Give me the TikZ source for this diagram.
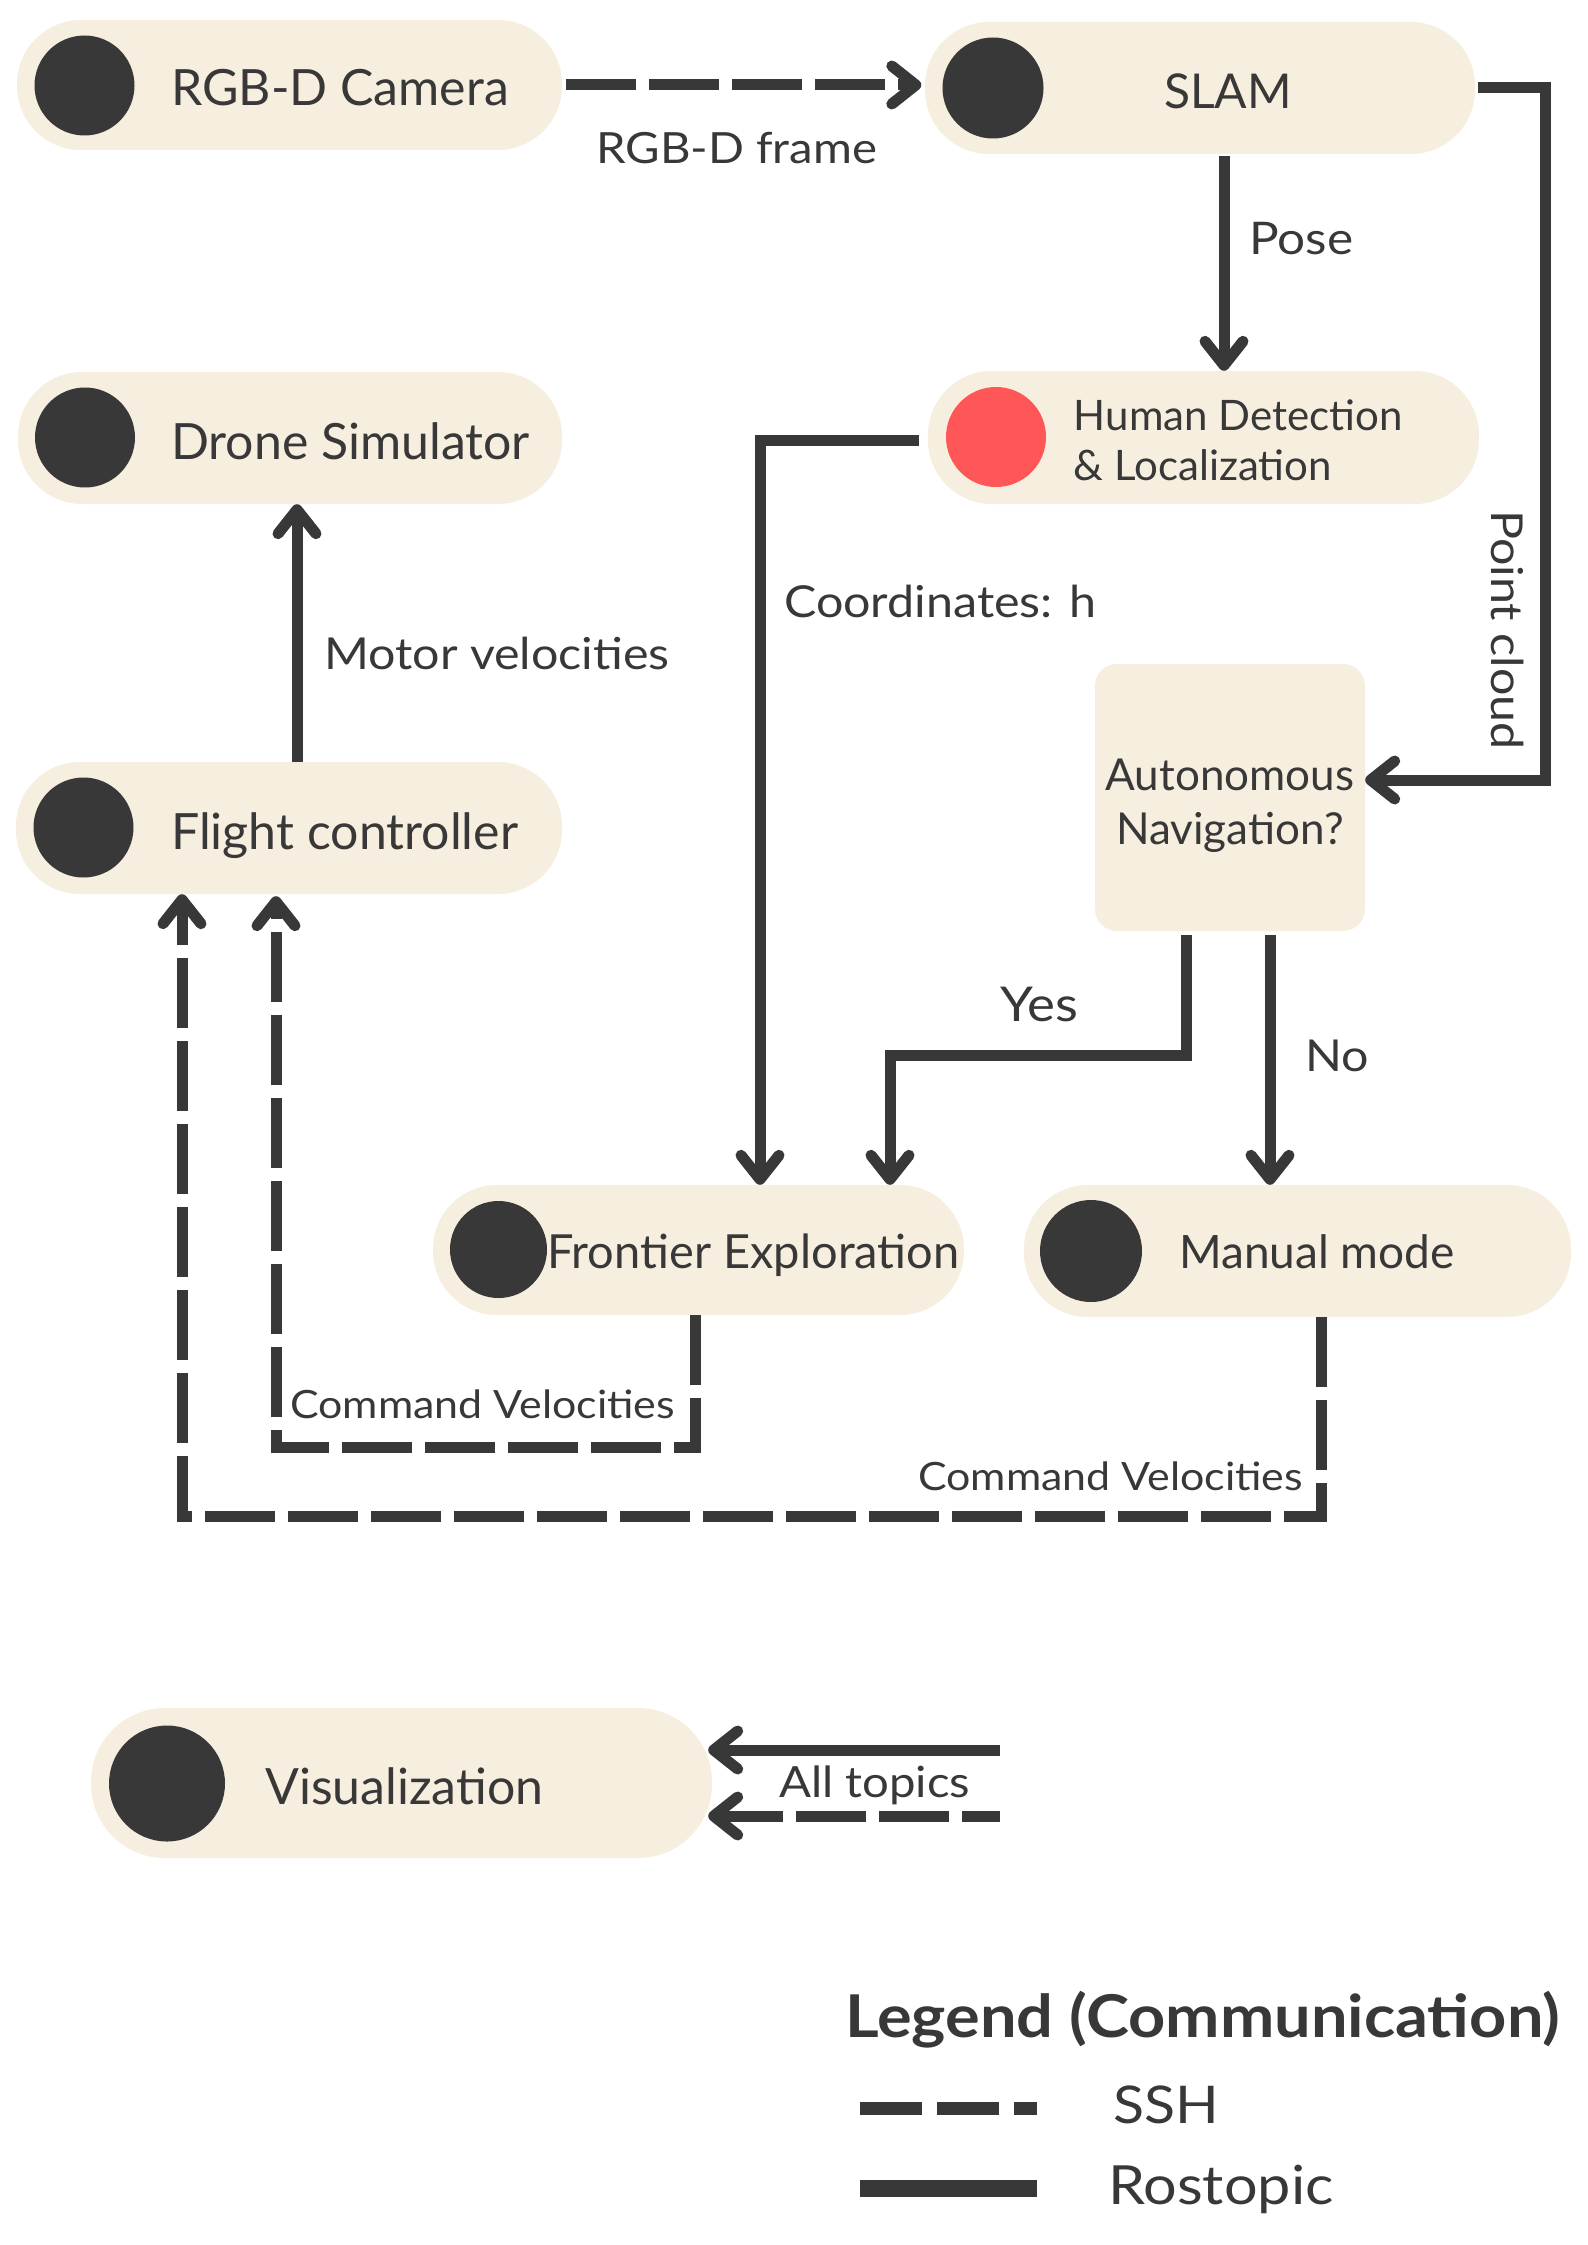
\documentclass[tikz,border=0pt]{standalone}
\usepackage{fontspec}
\setmainfont{Lato}
\newfontfamily\lblfont[FakeStretch=1.1]{Lato}
\usetikzlibrary{arrows.meta,calc}
\definecolor{dark}{HTML}{383838}
\definecolor{cream}{HTML}{F6EEDF}
\definecolor{redd}{HTML}{FF5757}
\begin{document}
\begin{tikzpicture}[x=1pt,y=-1pt,
  pill/.style={fill=cream, draw=none, rounded corners=64pt, inner sep=0},
  dot/.style={circle, fill=dark, inner sep=0, minimum size=#1},
  dot/.default=100pt,
  ros/.style={draw=dark, line width=11pt},
  ssh/.style={ros, dash pattern=on 70pt off 13pt},
  tip/.style={-{Straight Barb[length=24pt,width=38pt,round]}},
  txt/.style={inner sep=0, anchor=base west, text=dark},
  fbig/.style={font=\fontsize{50}{60}\selectfont},
  lbl/.style={font=\lblfont\fontsize{#1}{#1}\selectfont},
  lbl/.default=44]
\useasboundingbox (0,0) rectangle (1587,2245);

% ---------- nodes ----------
\node[pill, minimum width=545pt, minimum height=130pt] (cam) at (289.5,85) {};
\node[dot] (camdot) at (84.5,85.5) {};
\node[txt, fbig] (camtxt) at (171,106) {RGB-D Camera};

\node[pill, minimum width=550pt, minimum height=132pt] (slam) at (1200,88) {};
\node[dot=101pt] (slamdot) at (993,88) {};
\node[txt, font=\fontsize{48}{58}\selectfont] (slamtxt) at (1164,109) {SLAM};

\node[pill, minimum width=551pt, minimum height=133pt] (hum) at (1203.4,437.5) {};
\node[dot=100pt, fill=redd] (humdot) at (996,437) {};
\node[txt, anchor=north west, align=left, font=\fontsize{42}{50}\selectfont] (humtxt) at (1073.6,400) {Human Detection\\\& Localization};

\node[pill, minimum width=544pt, minimum height=132pt] (drone) at (290,438) {};
\node[dot] (dronedot) at (85,437.5) {};
\node[txt, fbig] (dronetxt) at (171,459) {Drone Simulator};

\node[pill, minimum width=546pt, minimum height=132pt] (fc) at (289,828) {};
\node[dot] (fcdot) at (83.5,827.5) {};
\node[txt, fbig] (fctxt) at (171,849) {Flight controller};

\node[fill=cream, rounded corners=22pt, inner sep=0, minimum width=270pt, minimum height=267pt] (auto) at (1230,797.5) {};
\node[inner sep=0, anchor=north, align=center, text=dark, font=\fontsize{44}{54}\selectfont] (autotxt) at (1230,759) {Autonomous\\Navigation?};

\node[pill, minimum width=531pt, minimum height=130pt] (fe) at (698.5,1250) {};
\node[dot=97pt] (fedot) at (498.5,1249.5) {};
\node[txt, font=\fontsize{47}{56}\selectfont] (fetxt) at (547,1268) {Frontier Exploration};

\node[pill, minimum width=547pt, minimum height=132pt] (mm) at (1297.5,1251) {};
\node[dot=102pt] (mmdot) at (1091,1251) {};
\node[txt, font=\fontsize{46}{56}\selectfont] (mmtxt) at (1179,1268) {Manual mode};

\node[pill, rounded corners=74pt, minimum width=621pt, minimum height=150pt] (vis) at (401.5,1783) {};
\node[dot=116pt] (visdot) at (167,1783.5) {};
\node[txt, fbig] (vistxt) at (265,1804) {Visualization};

% ---------- labels ----------
\node[txt, lbl=43] (lframe) at (596,164) {RGB-D frame};
\node[txt, lbl=45] (lpose) at (1249,254) {Pose};
\node[txt, lbl=44, rotate=-90] (lpc) at (1491,510) {Point cloud};
\node[txt, lbl=44] (lcoord) at (784,617) {Coordinates: h};
\node[txt, lbl=44] (lmotor) at (324,669) {Motor velocities};
\node[txt, lbl=48] (lyes) at (1000,1021) {Yes};
\node[txt, lbl=44] (lno) at (1305,1071) {No};
\node[txt, lbl=39] (lcv1) at (290,1418) {Command Velocities};
\node[txt, lbl=39] (lcv2) at (918,1490) {Command Velocities};
\node[txt, lbl=43] (lall) at (779,1797) {All topics};

% ---------- connectors ----------
\draw[ssh, tip] ($(cam.east)+(4,0)$) -- ($(slam.west)+(-3.5,-3)$);
\coordinate (pcc) at (1545.5,780);
\draw[ros, tip] ($(slam.east)+(3,0)$) -| (pcc) -- (pcc -| auto.east);
\draw[ros, tip] ($(slam.south)+(24,2)$) -- ($(hum.north)+(20.6,0)$);
\draw[ros, tip] ($(hum.west)+(-9,2.5)$) -| ($(fe.north)+(61.5,0)$);
\draw[ros, tip] ($(auto.south)+(-43.5,4)$) -- ($(auto.south)+(-43.5,124)$) -| ($(fe.north)+(191.5,0)$);
\draw[ros, tip] ($(auto.south)+(40,4)$) -- ($(mm.north)+(-27.5,0)$);
\draw[ros, tip] ($(fc.north)+(8,0)$) -- ($(drone.south)+(7,0)$);
\coordinate (ib) at (695,1447);
\draw[ssh, tip] (fe.south -| ib) -- (ib) -| ($(fc.south)+(-13,2)$);
\coordinate (ob) at (1321,1516);
\draw[ssh, tip] (mm.south -| ob) -- (ob) -| ($(fc.south)+(-107,0)$);
\coordinate (a1) at (1000,1750);
\coordinate (a2) at (1000,1816);
\draw[ros, tip] (a1) -- ($(a1 -| vis.east)+(-4,0)$);
\draw[ssh, tip, dash phase=32pt] (a2) -- ($(a2 -| vis.east)+(-4,0)$);

% ---------- legend ----------
\node[txt, font=\lblfont\bfseries\fontsize{59}{70}\selectfont] (legt) at (845,2037) {Legend (Communication)};
\coordinate (s1) at (860,2108); \coordinate (s2) at (1037,2108);
\draw[draw=dark, line width=13pt, dash pattern=on 62pt off 15pt] (s1) -- (s2);
\node[txt, lbl=52] (lssh) at (1113,2123) {SSH};
\coordinate (r1) at (860,2188); \coordinate (r2) at (1037,2188);
\draw[draw=dark, line width=17pt] (r1) -- (r2);
\node[txt, lbl=54] (lros) at (1108,2204) {Rostopic};
\end{tikzpicture}
\end{document}
